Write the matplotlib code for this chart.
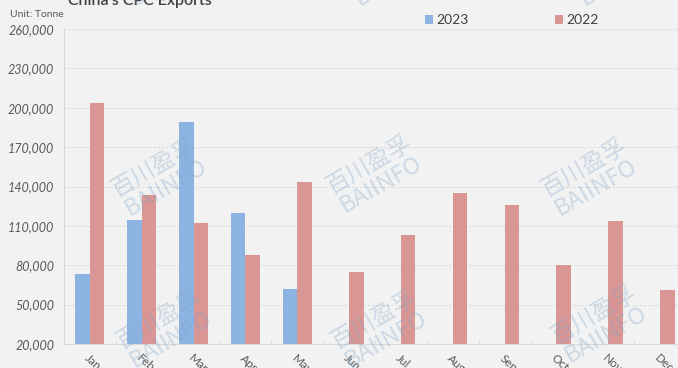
import matplotlib.pyplot as plt
import numpy as np

months = ['Jan', 'Feb', 'Mar', 'Apr', 'May', 'Jun', 'Jul', 'Aug', 'Sep', 'Oct', 'Nov', 'Dec']
exports_2023 = [73300, 114500, 189000, 119500, 62000, None, None, None, None, None, None, None]
exports_2022 = [203500, 133500, 112000, 88000, 143500, 74500, 103000, 135000, 125800, 80000, 113500, 61000]
yticks = list(range(20000, 260001, 30000))

blue = '#8db3e2'
red = '#d99694'
bg = '#f2f2f2'

plt.rcParams['font.family'] = ['Lato', 'DejaVu Sans']

fig = plt.figure(figsize=(6.78, 3.68), dpi=100, facecolor=bg)
ax = fig.add_axes([64 / 678, 24 / 368, 622 / 678, 315 / 368])
ax.set_facecolor(bg)

x = np.arange(len(months))
w = 0.28
v23 = [np.nan if v is None else v for v in exports_2023]
ax.bar(x - w / 2, v23, w, color=blue, label='2023', zorder=2)
ax.bar(x + w / 2, exports_2022, w, color=red, label='2022', zorder=2)

ax.set_xlim(-0.5, len(months) - 0.5)
ax.set_ylim(20000, 260000)
ax.set_yticks(yticks)
ax.set_yticklabels([f'{t:,}' for t in yticks], fontstyle='italic', fontsize=9, color='#595959')
ax.yaxis.grid(True, color='#d6d6d6', linestyle=(0, (2, 2)), linewidth=0.7, zorder=0)
ax.tick_params(axis='y', length=0, pad=7)

ax.set_xticks(x)
ax.set_xticklabels(months, rotation=-42, ha='left', va='top', rotation_mode='anchor',
                   fontsize=8.5, color='#595959')
ax.tick_params(axis='x', length=0, pad=6)
ax.set_xticks(np.arange(-0.5, len(months)), minor=True)
ax.tick_params(axis='x', which='minor', direction='in', length=3, color='#d9d9d9')

for s in ['top', 'right']:
    ax.spines[s].set_visible(False)
ax.spines['left'].set_color('#d9d9d9')
ax.spines['bottom'].set_color('#d9d9d9')

# watermark grid
for cx, cy in [(165, -32), (390, -32), (615, -32),
               (160, 178), (375, 175), (590, 178),
               (165, 330), (380, 330), (600, 325)]:
    fx, fy = cx / 678, 1 - cy / 368
    fig.text(fx, fy, '百川盈孚\nBAIINFO', family=['Noto Sans CJK SC', 'DejaVu Sans'],
             fontsize=17, color='#7fa6c9', alpha=0.33, rotation=30,
             ha='center', va='center', linespacing=1.0, multialignment='center', zorder=5)

fig.text(140 / 678, 1 - 5 / 368, "China's CPC Exports", fontsize=11.5, fontweight='semibold',
         color='#404040', ha='center', va='baseline')
fig.text(10 / 678, 1 - 17 / 368, 'Unit: Tonne', fontsize=7.5, color='#595959', ha='left', va='baseline')

fig.legend(loc='upper left', bbox_to_anchor=(412 / 678, 1 - 2 / 368), ncol=2, frameon=False,
           fontsize=10, handlelength=0.6, handleheight=0.6, handletextpad=0.25,
           columnspacing=6.2, labelcolor='#404040')

fig.savefig('out.png', dpi=100, facecolor=bg)
